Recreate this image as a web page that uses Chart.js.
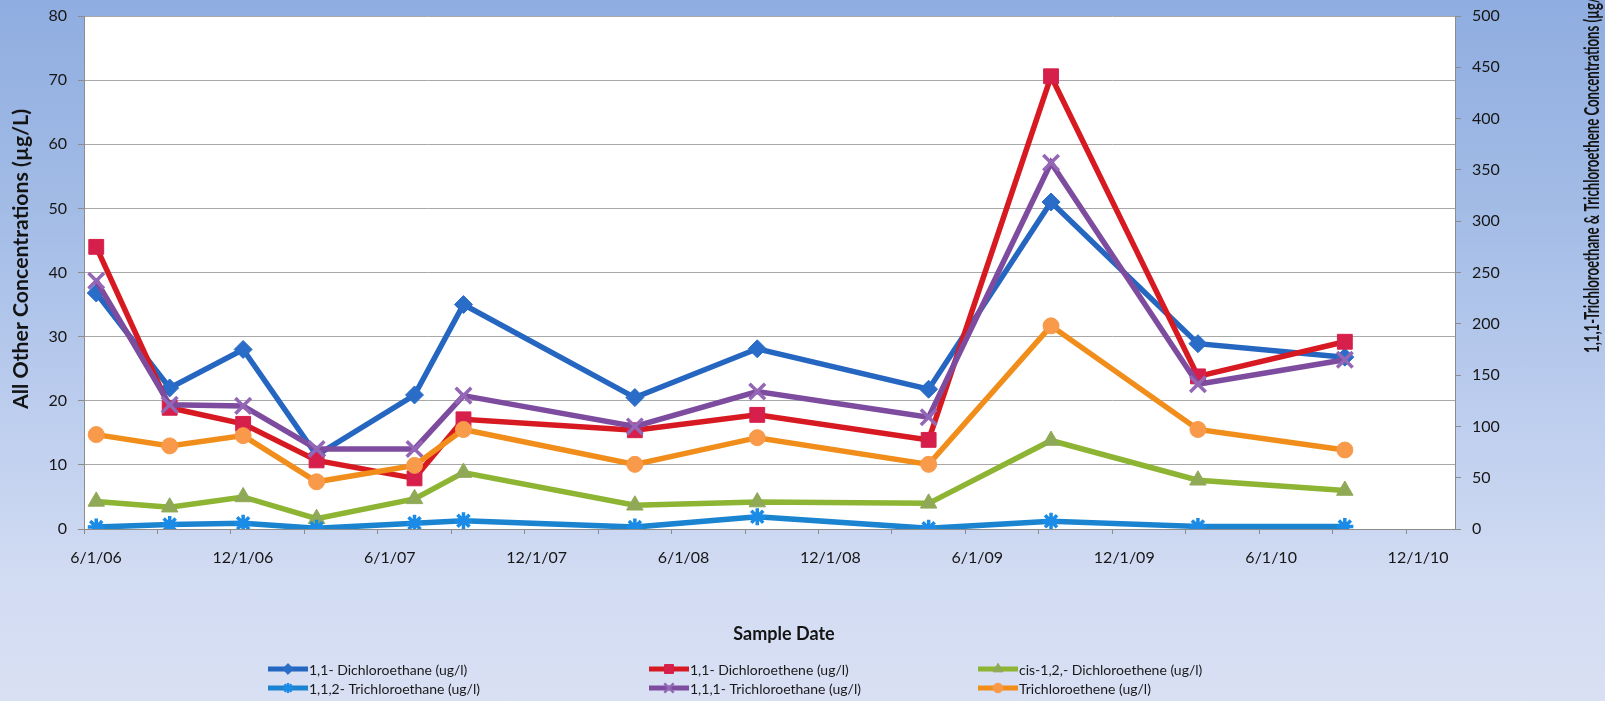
<!DOCTYPE html>
<html>
<head>
<meta charset="utf-8">
<title>Sample Date concentrations</title>
<script src="https://cdn.jsdelivr.net/npm/chart.js"></script>
<style>
  html, body { margin: 0; padding: 0; }
  #wrap {
    position: relative;
    width: 1605px; height: 701px;
    background: linear-gradient(180deg, #8fade0 0%, #a3bce6 30%, #bccdee 58%, #d1dbf2 82%, #d9e0f4 100%);
  }
</style>
</head>
<body>
<div id="wrap"><canvas id="chart"></canvas></div>
<script>
/* sample dates (month/year) and x-axis labels */
const sampleDates = ['6/06', '9/06', '12/06', '3/07', '7/07', '9/07', '4/08', '9/08', '4/09', '9/09', '3/10', '9/10'];
const xTickLabels = ['6/1/06', '12/1/06', '6/1/07', '12/1/07', '6/1/08', '12/1/08', '6/1/09', '12/1/09', '6/1/10', '12/1/10'];

/* left axis series (ug/l) */
const dca11   = [36.8, 22, 28, 11.5, 20.9, 35, 20.5, 28.1, 21.8, 51, 28.9, 26.8];
const dce11   = [44, 18.9, 16.4, 10.7, 7.9, 17.1, 15.4, 17.8, 13.9, 70.6, 23.8, 29.2];
const cisDce  = [4.3, 3.4, 5.0, 1.6, 4.7, 8.8, 3.7, 4.2, 4.0, 13.8, 7.6, 6.0];
const tca112  = [0.3, 0.7, 0.9, 0.1, 0.9, 1.3, 0.3, 1.9, 0.1, 1.2, 0.4, 0.4];
/* right axis series (ug/l) */
const tca111  = [242, 121, 120, 78, 78, 130, 100, 134, 109, 357, 141, 165];
const tce     = [92, 81, 91, 46, 62, 97, 63, 89, 63, 198, 97, 77];

const leftTicks  = { min: 0, max: 80, step: 10 };
const rightTicks = { min: 0, max: 500, step: 50 };

// months counted from June 2006; +0.5 puts a point in the middle of its month slot
function monthX(s) {
    const [m, yy] = s.split('/').map(Number);
    return (yy - 6) * 12 + (m - 6) + 0.5;
}
const xs = sampleDates.map(monthX);
const pts = vals => vals.map((v, i) => ({ x: xs[i], y: v }));

const FONT = 'Lato, "Open Sans", sans-serif';

const series = [
    { label: '1,1- Dichloroethane (ug/l)',      data: dca11,  axis: 'y',  line: '#2566c1', mark: '#2a6dc8', style: 'rectRot',  r: 9,    bw: 1 },
    { label: '1,1- Dichloroethene (ug/l)',      data: dce11,  axis: 'y',  line: '#d71a22', mark: '#d61f4b', style: 'rect',     r: 10.5, bw: 1 },
    { label: 'cis-1,2,- Dichloroethene (ug/l)', data: cisDce, axis: 'y',  line: '#8db432', mark: '#8fa957', style: 'triangle', r: 9.5,  bw: 1 },
    { label: '1,1,2- Trichloroethane (ug/l)',   data: tca112, axis: 'y',  line: '#1a84d0', mark: '#1a8be6', style: 'star',     r: 8.5,  bw: 3.5 },
    { label: '1,1,1- Trichloroethane (ug/l)',   data: tca111, axis: 'y1', line: '#7e4c9f', mark: '#9467b6', style: 'crossRot', r: 11,   bw: 3.5 },
    { label: 'Trichloroethene (ug/l)',          data: tce,    axis: 'y1', line: '#f18d1a', mark: '#f89a4a', style: 'circle',   r: 8,    bw: 1 }
];

const datasets = series.map((s, i) => ({
    label: s.label,
    data: pts(s.data),
    yAxisID: s.axis,
    borderColor: s.line,
    borderWidth: 5.5,
    backgroundColor: s.mark,
    pointStyle: s.style,
    pointRadius: s.r,
    pointBorderWidth: s.bw,
    pointBackgroundColor: s.mark,
    pointBorderColor: s.mark,
    tension: 0,
    order: series.length - i   // later series end up on top
}));

// plot area frame: x 84..1455, y 16..529
const chartBox = { left: 84, right: 1455, top: 16, bottom: 529 };

const legendCols = [268, 649, 978];
const legendRows = [669, 688];

// rotated bold title squeezed horizontally so that `fitText` spans `fitLen` px
function drawTitle(ctx, text, fitText, fitLen, x, y, align) {
    ctx.save();
    ctx.translate(x, y);
    ctx.rotate(-Math.PI / 2);
    const sx = fitLen / ctx.measureText(fitText).width;
    ctx.scale(sx, 1);
    ctx.textAlign = align;
    ctx.fillText(text, 0, 0);
    ctx.restore();
}

const decorations = {
    id: 'decorations',
    beforeDraw(chart) {
        const { ctx, chartArea: a } = chart;
        ctx.save();
        ctx.fillStyle = '#ffffff';
        ctx.fillRect(a.left, a.top, a.right - a.left, a.bottom - a.top);
        ctx.restore();
    },
    afterDraw(chart) {
        const { ctx } = chart;
        ctx.save();
        ctx.fillStyle = '#141414';
        ctx.textBaseline = 'middle';

        // left axis title
        ctx.font = 'bold 20px ' + FONT;
        const leftTitle = 'All Other Concentrations (\u00b5g/L)';
        drawTitle(ctx, leftTitle, leftTitle, 300, 22, 259, 'center');

        // right axis title, runs off the top edge
        ctx.font = 'bold 20px ' + FONT;
        const rightTitle = '1,1,1-Trichloroethane & Trichloroethene Concentrations (\u00b5g/L)';
        drawTitle(ctx, rightTitle, '1,1,1-Trichloroethane & Trichloroethene Concentrations (\u00b5g/', 356, 1593, 353, 'left');

        // x axis title
        ctx.font = 'bold 18px ' + FONT;
        ctx.textAlign = 'center';
        ctx.fillText('Sample Date', 784, 634);

        // legend, three columns by two rows
        ctx.font = '14px ' + FONT;
        ctx.textAlign = 'left';
        const drawPoint = Chart.helpers && Chart.helpers.drawPoint;
        series.forEach((s, i) => {
            const x0 = legendCols[i % 3];
            const y = legendRows[Math.floor(i / 3)];
            ctx.strokeStyle = s.line;
            ctx.lineWidth = 5;
            ctx.beginPath();
            ctx.moveTo(x0, y);
            ctx.lineTo(x0 + 40, y);
            ctx.stroke();
            ctx.fillStyle = s.mark;
            ctx.strokeStyle = s.mark;
            ctx.lineWidth = s.bw > 1 ? 2.5 : 1;
            if (drawPoint) {
                drawPoint(ctx, { pointStyle: s.style, radius: s.r * 0.6, borderWidth: ctx.lineWidth, rotation: 0 }, x0 + 20, y);
            }
            ctx.fillStyle = '#1a1a1a';
            ctx.fillText(s.label, x0 + 41, y + 1);
        });
        ctx.restore();
    }
};

const tickFont = { family: FONT, size: 16 };
// keep the value axes from pushing the plot top down for their end labels
const noEndPadding = scale => { scale.paddingTop = 0; scale.paddingBottom = 0; };

new Chart(document.getElementById('chart'), {
    type: 'line',
    data: { datasets },
    options: {
        responsive: true,
        maintainAspectRatio: false,
        animation: false,
        layout: { padding: { top: chartBox.top, left: 0, right: 0, bottom: 0 } },
        plugins: { legend: { display: false }, tooltip: { enabled: false } },
        scales: {
            x: {
                type: 'linear',
                min: 0, max: 56,
                afterBuildTicks: scale => {
                    const t = [];
                    for (let v = 0; v <= 54; v += 3) t.push({ value: v });
                    scale.ticks = t;
                },
                afterFit: scale => { scale.height = 701 - chartBox.bottom; },
                grid: { display: true, drawOnChartArea: false, drawTicks: true, tickLength: 5, tickColor: '#8c8c8c' },
                border: { display: true, color: '#8c8c8c', width: 1 },
                ticks: {
                    autoSkip: false, maxRotation: 0, minRotation: 0,
                    padding: 14, labelOffset: 12,
                    color: '#161616', font: tickFont,
                    callback: v => (v % 6 === 0 ? xTickLabels[v / 6] : '')
                }
            },
            y: {
                position: 'left',
                min: leftTicks.min, max: leftTicks.max,
                afterFit: scale => { scale.width = chartBox.left; noEndPadding(scale); },
                grid: { color: '#a8a8a8', lineWidth: 1, drawTicks: true, tickLength: 6, tickColor: '#8c8c8c' },
                border: { display: true, color: '#8c8c8c', width: 1 },
                ticks: { stepSize: leftTicks.step, padding: 11, color: '#161616', font: tickFont }
            },
            y1: {
                position: 'right',
                min: rightTicks.min, max: rightTicks.max,
                afterFit: scale => { scale.width = 1605 - chartBox.right; noEndPadding(scale); },
                grid: { drawOnChartArea: false, drawTicks: true, tickLength: 6, tickColor: '#8c8c8c' },
                border: { display: true, color: '#8c8c8c', width: 1 },
                ticks: { stepSize: rightTicks.step, padding: 11, color: '#161616', font: tickFont }
            }
        }
    },
    plugins: [decorations]
});
</script>
</body>
</html>
